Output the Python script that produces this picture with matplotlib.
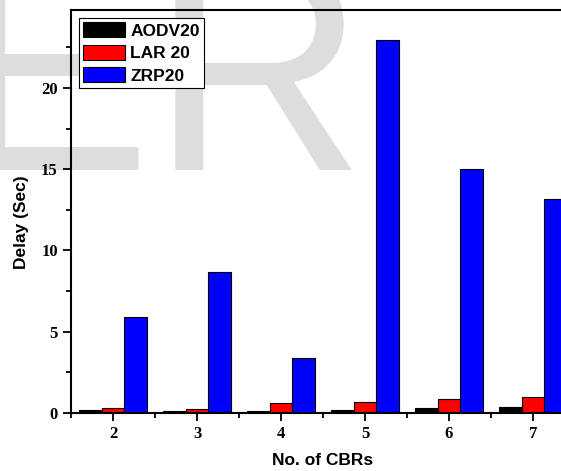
import numpy as np
import matplotlib
matplotlib.use("Agg")
import matplotlib.pyplot as plt
from matplotlib.ticker import MultipleLocator

# data
cbrs = [2, 3, 4, 5, 6, 7]
aodv20 = [0.15, 0.08, 0.12, 0.18, 0.29, 0.35]
lar20 = [0.27, 0.21, 0.58, 0.66, 0.86, 0.97]
zrp20 = [5.87, 8.64, 3.35, 22.96, 15.0, 13.15]
series_names = ["AODV20", "LAR 20", "ZRP20"]
series_colors = ["#000000", "#ff0000", "#0000ff"]

W, H = 561, 471
fig = plt.figure(figsize=(W / 100, H / 100), dpi=100)


def ink_columns(t):
    """columns (px) where text t leaves ink, with only t visible"""
    others = [a for a in fig.texts if a is not t]
    for a in others:
        a.set_visible(False)
    fig.canvas.draw()
    img = np.asarray(fig.canvas.buffer_rgba())[..., 0]
    for a in others:
        a.set_visible(True)
    return np.where((img < 245).any(axis=0))[0]


# light grey watermark letters behind the plot
wm_kw = dict(color="#dddddd", family="Liberation Sans", ha="left",
             va="baseline", zorder=-1)
base_y = (H - 170) / H
wm_r = fig.text(0.3, base_y, "R", fontsize=180, **wm_kw)
cols = ink_columns(wm_r)
wm_r.set_fontsize(180 * 177 / (cols[-1] - cols[0] + 1))
cols = ink_columns(wm_r)
wm_r.set_x(0.3 + (175 - cols[0]) / W)

wm_e = fig.text(0.3, base_y, "E", fontsize=wm_r.get_fontsize(), **wm_kw)
cols = ink_columns(wm_e)
wm_e.set_x(0.3 + (138 - cols[-1]) / W)

ax = fig.add_axes([71 / W, 1 - 412.7 / H, 504 / W, 402.7 / H])
ax.patch.set_alpha(0)

x = np.array(cbrs, dtype=float)
width = 0.27
for i, (vals, name, col) in enumerate(zip([aodv20, lar20, zrp20], series_names, series_colors)):
    ax.bar(x + (i - 1) * width, vals, width, color=col, edgecolor="black",
           linewidth=0.8, label=name)

ax.set_xlim(1.5, 7.5)
ax.set_ylim(0, 24.8)
ax.set_xticks(cbrs)
ax.xaxis.set_minor_locator(MultipleLocator(0.5))
ax.yaxis.set_major_locator(MultipleLocator(5))
ax.yaxis.set_minor_locator(MultipleLocator(2.5))

for s in ax.spines.values():
    s.set_linewidth(1.5)

ax.tick_params(which="major", direction="out", length=6, width=1.3,
               top=False, right=False)
ax.tick_params(which="minor", direction="out", length=3.5, width=1.3,
               top=False, right=False)
for lab in ax.get_xticklabels() + ax.get_yticklabels():
    lab.set_family("Liberation Serif")
    lab.set_fontweight("bold")
    lab.set_fontsize(12)

ax.set_xlabel("No. of CBRs", family="Liberation Sans", fontweight="bold",
              fontsize=12.5, va="center")
ax.set_ylabel("Delay (Sec)", family="Liberation Sans", fontweight="bold",
              fontsize=12.5, va="center")
ax.xaxis.set_label_coords(0.5, -0.1175)
ax.yaxis.set_label_coords(-0.099, 0.4735)

leg = ax.legend(loc="upper left", bbox_to_anchor=(8 / 504, (412.7 - 18) / 402.7),
                borderaxespad=0, fancybox=False, framealpha=1, edgecolor="black",
                prop={"family": "Liberation Sans", "weight": "bold", "size": 12.5},
                handlelength=2.4, handleheight=0.95, handletextpad=0.3,
                labelspacing=0.35, borderpad=0.25)
leg.get_frame().set_linewidth(0.8)

fig.savefig("out.png", dpi=100)
